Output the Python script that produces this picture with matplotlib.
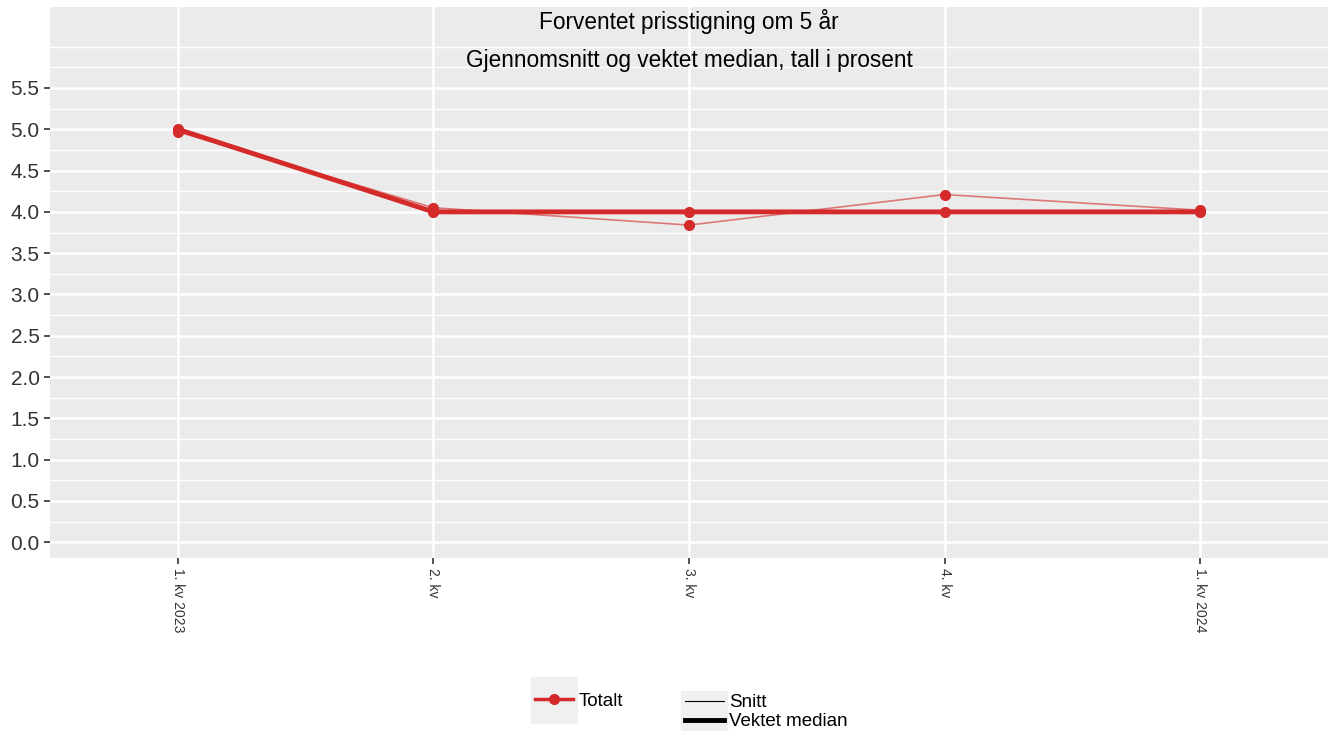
import numpy as np
import matplotlib.pyplot as plt
from matplotlib.lines import Line2D
from matplotlib.patches import Rectangle

plt.rcParams['font.family'] = ['Liberation Sans', 'DejaVu Sans']

kvartal = ["1. kv 2023", "2. kv", "3. kv", "4. kv", "1. kv 2024"]
snitt = [4.97, 4.05, 3.84, 4.21, 4.02]
vektet_median = [5.0, 4.0, 4.0, 4.0, 4.0]

red = "#d42a2a"

fig = plt.figure(figsize=(13.33, 7.31), dpi=100)
ax = fig.add_axes([50/1333, 1 - 558/731, 1278/1333, 551/731])
ax.set_facecolor("#ebebeb")
for s in ax.spines.values():
    s.set_visible(False)

x = np.arange(len(kvartal))
# snitt: thin, translucent line with solid points
ax.plot(x, snitt, color=red, alpha=0.6, lw=1.2, zorder=3)
ax.plot(x, snitt, ls="none", marker="o", ms=7, color=red, zorder=3)
ax.plot(x, vektet_median, color=red, lw=3.5, marker="o", ms=7, zorder=4)

ax.set_xlim(-0.5, 4.5)
ax.set_ylim(-0.19, 6.48)
ax.set_xticks(x)
ax.set_xticklabels(kvartal, rotation=-90, fontsize=10, color="#333333")
ax.set_yticks(np.arange(0, 5.51, 0.5))
ax.set_yticklabels([f"{v:.1f}" for v in np.arange(0, 5.51, 0.5)], fontsize=15, color="#333333")
ax.set_yticks(np.arange(-0.0, 6.01, 0.25), minor=True)
ax.tick_params(axis="y", which="minor", length=0)
ax.tick_params(axis="both", which="major", length=4, width=1.2, color="#333333")
ax.grid(True, which="major", axis="both", color="white", lw=1.8, zorder=0)
ax.grid(True, which="minor", axis="y", color="white", lw=1.0, zorder=0)
ax.axhline(6.0, color="white", lw=1.0, zorder=0)
ax.set_axisbelow(True)

ax.text(0.5, 1 - 15/551, "Forventet prisstigning om 5 år", transform=ax.transAxes,
        ha="center", va="center", fontsize=16.3)
ax.text(0.5, 1 - 54/551, "Gjennomsnitt og vektet median, tall i prosent", transform=ax.transAxes,
        ha="center", va="center", fontsize=16.3)

# legend key backgrounds
fig.patches.append(Rectangle((531/1333, 1 - 723/731), 46/1333, 46/731,
                             transform=fig.transFigure, color="#f0f0f0", zorder=0))
fig.patches.append(Rectangle((681/1333, 1 - 731/731), 46/1333, 40/731,
                             transform=fig.transFigure, color="#f0f0f0", zorder=0))

h1 = [Line2D([], [], color=red, lw=2.5, marker="o", ms=7)]
fig.legend(h1, ["Totalt"], loc="center left", bbox_to_anchor=(535/1333, 1 - 701/731),
           frameon=False, fontsize=13.5, handlelength=2.0, handletextpad=0.35,
           borderpad=0, borderaxespad=0)
h2 = [Line2D([], [], color="black", lw=0.8), Line2D([], [], color="black", lw=3.5)]
fig.legend(h2, ["Snitt", "Vektet median"], loc="center left",
           bbox_to_anchor=(685/1333, 1 - 712/731), frameon=False, fontsize=13.5,
           handlelength=2.1, handletextpad=0.25, labelspacing=0.1,
           borderpad=0, borderaxespad=0)

fig.savefig("out.png", dpi=100)
